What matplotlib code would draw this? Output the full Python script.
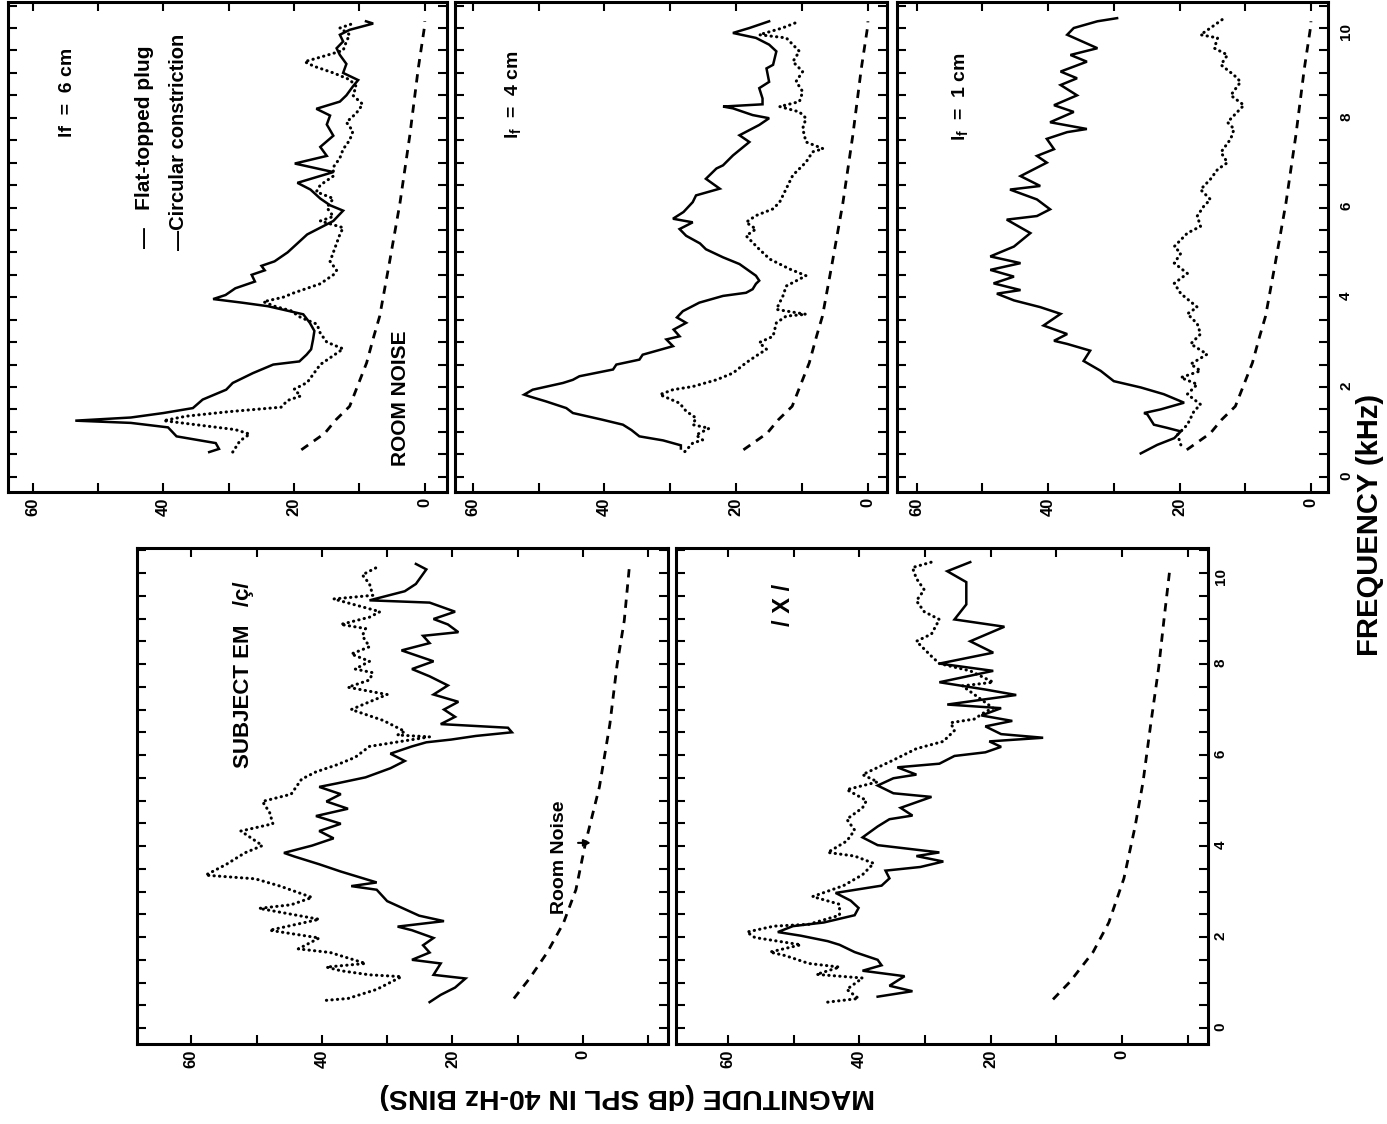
import matplotlib.pyplot as plt
from matplotlib import font_manager
from matplotlib.ticker import MultipleLocator, FuncFormatter

# ---------------- data: frequency (kHz) and magnitude (dB) ----------------
# right column, room noise (same in all three panels)
room_r_f = [0.6, 0.97, 1.27, 1.57, 2.54, 3.13, 3.58, 4.78, 6.1, 7.6, 9.1, 10.07, 10.15]
room_r_db = [18.9, 15.3, 13.6, 11.5, 8.9, 7.8, 6.9, 5.4, 3.8, 2.3, 1.0, 0.0, 0.0]

# lf = 6 cm
lf6_plug_f = [0.55, 0.62, 0.75, 0.9, 1.1, 1.2, 1.25, 1.32, 1.42, 1.53, 1.72, 1.94, 2.09, 2.31,
              2.5, 2.57, 2.72, 2.84, 3.06, 3.25, 3.43, 3.62, 3.69, 3.8, 3.88, 3.96, 4.05, 4.2,
              4.35, 4.5, 4.6, 4.7, 4.8, 5.0, 5.2, 5.4, 5.55, 5.7, 5.93, 6.05, 6.2, 6.4, 6.55,
              6.79, 6.98, 7.15, 7.35, 7.6, 7.85, 8.05, 8.2, 8.36, 8.5, 8.7, 8.84, 9.0, 9.2,
              9.4, 9.55, 9.7, 9.85, 9.96, 10.1, 10.15]
lf6_plug_db = [33, 31.5, 32, 38, 39.3, 45, 53.5, 45, 40, 35.5, 34, 30.4, 29.4, 26.3,
               23.2, 19.2, 18.1, 17.4, 17.1, 16.9, 17.6, 18.6, 20.7, 24, 28, 32.4, 30.5, 29,
               26, 26.5, 24.5, 25, 23, 21, 19.5, 18, 16, 14, 12.5, 14.5, 16, 17.5, 19.5,
               14, 19.9, 15, 16, 14, 15, 14.5, 16.6, 13, 12, 11, 10.2, 12.5, 12,
               13, 13.5, 12.5, 13, 11.5, 7.9, 9]
lf6_circ_f = [0.55, 0.8, 0.95, 1.05, 1.15, 1.25, 1.35, 1.45, 1.55, 1.7, 1.8, 1.95, 2.1, 2.3,
              2.5, 2.7, 2.85, 3.0, 3.2, 3.4, 3.55, 3.7, 3.8, 3.9, 4.0, 4.1, 4.3, 4.5, 4.6,
              4.8, 5.0, 5.2, 5.4, 5.55, 5.7, 5.8, 6.0, 6.2, 6.35, 6.5, 6.7, 6.9, 7.1, 7.3,
              7.5, 7.7, 7.9, 8.1, 8.3, 8.5, 8.7, 8.85, 9.0, 9.15, 9.25, 9.35, 9.5, 9.7,
              9.85, 10.0, 10.1]
lf6_circ_db = [29.4, 28.3, 26.8, 29, 34.5, 40, 36.5, 30, 22, 21, 19, 20, 18, 17,
               16, 14, 12.5, 15, 16, 16.5, 19, 20.5, 23, 24.7, 21.7, 20, 16, 14, 13.5,
               14.5, 14, 13.5, 13, 12.5, 16, 14, 15, 14, 16.6, 16, 14, 14, 13, 12.5,
               11.5, 11, 12, 10.5, 9.5, 11, 10.5, 11.5, 14, 17, 18.4, 16, 12.5, 12,
               11.5, 13, 11]

# lf = 4 cm
lf4_plug_f = [0.63, 0.7, 0.81, 0.9, 1.04, 1.16, 1.27, 1.42, 1.53, 1.68, 1.79, 1.83, 1.94, 2.09,
              2.16, 2.24, 2.39, 2.5, 2.61, 2.72, 2.91, 3.06, 3.13, 3.28, 3.43, 3.55, 3.69,
              3.88, 4.03, 4.1, 4.18, 4.3, 4.37, 4.48, 4.74, 4.89, 5.07, 5.2, 5.37, 5.52, 5.67,
              5.75, 5.9, 6.12, 6.27, 6.42, 6.64, 6.87, 6.94, 7.16, 7.46, 7.61, 7.84, 7.99,
              8.06, 8.21, 8.25, 8.3, 8.43, 8.66, 8.8, 9.1, 9.18, 9.48, 9.63, 9.78, 9.89,
              10.0, 10.15]
lf4_plug_db = [28.4, 28.4, 31.1, 34.7, 35.9, 37.2, 40.3, 44.8, 45.8, 48.9, 51.4, 52.2, 50.9, 46.3,
               44.8, 43.8, 38.7, 38.2, 34.7, 34.2, 29.6, 30.6, 28.6, 29.5, 27.6, 29, 28.1,
               25.6, 22, 18.5, 17.5, 17, 16.5, 17, 19.5, 22, 24.6, 25.5, 27.6, 28.6, 26.6,
               29.6, 28, 26.6, 26.1, 22.5, 24.6, 23, 22, 20.5, 18, 19.5, 16.5, 15,
               17.5, 20.5, 22, 16, 16, 16.5, 15, 15.4, 14.4, 13.9, 15, 17, 20.5,
               18, 15]
lf4_circ_f = [0.56, 0.75, 0.82, 0.93, 1.08, 1.16, 1.31, 1.46, 1.64, 1.83, 1.94, 2.01, 2.16, 2.31,
              2.54, 2.69, 2.84, 2.99, 3.13, 3.43, 3.58, 3.62, 3.73, 4.03, 4.25, 4.48, 4.63,
              4.85, 5.07, 5.37, 5.52, 5.67, 5.82, 5.97, 6.12, 6.42, 6.72, 7.01, 7.24, 7.31,
              7.46, 7.76, 7.99, 8.13, 8.25, 8.36, 8.58, 8.81, 9.03, 9.25, 9.48, 9.78, 9.85,
              10.0, 10.15]
lf4_circ_db = [27.8, 26.6, 25.1, 26.1, 24.1, 26.6, 26.1, 27.6, 28.6, 31.6, 29.6, 26.6, 23, 20.5,
               18.5, 17, 15.4, 16.5, 14.4, 13.9, 12.4, 9.4, 13.9, 12.9, 12.4, 9.4, 11.9,
               14.9, 16.5, 18.5, 17, 18.5, 17, 14.4, 13.4, 12.4, 11.4, 9.4, 8.4, 6.8,
               9.4, 9.9, 9.4, 10.4, 13.4, 10.4, 9.9, 10.9, 9.9, 11.4, 10.4, 12.4, 16.5,
               13, 10.4]

# lf = 1 cm
lf1_plug_f = [0.52, 0.71, 0.86, 1.01, 1.09, 1.16, 1.39, 1.42, 1.5, 1.65, 1.84, 1.99, 2.13, 2.36,
              2.58, 2.81, 2.96, 3.03, 3.18, 3.37, 3.63, 3.78, 3.93, 4.08, 4.16, 4.31, 4.46,
              4.61, 4.76, 4.91, 5.13, 5.43, 5.73, 5.81, 5.96, 6.18, 6.4, 6.48, 6.7, 7.0, 7.15,
              7.3, 7.53, 7.68, 7.75, 7.9, 8.13, 8.28, 8.5, 8.73, 8.88, 9.03, 9.25, 9.4, 9.55,
              9.85, 10.0, 10.15, 10.22]
lf1_plug_db = [25.9, 23.4, 20.8, 19.8, 21.9, 23.9, 24.9, 25.4, 22.9, 19.3, 22.4, 25.9, 30, 32,
               34.6, 33.6, 37.1, 39.1, 37.1, 40.7, 38.1, 41.2, 45.2, 47.8, 44.2, 48.3, 45.2,
               48.8, 44.2, 48.8, 45.2, 42.7, 46.3, 41.7, 39.7, 41.7, 45.8, 41.2, 44.2, 40.2, 41.7,
               39.1, 40.2, 37.1, 34.1, 39.7, 36.1, 39.1, 35.6, 38.1, 35.6, 38.1, 34.1, 36.6, 32.5,
               37.1, 36.1, 32.5, 29.5]
lf1_circ_f = [0.71, 0.94, 1.16, 1.46, 1.61, 1.84, 2.06, 2.21, 2.36, 2.51, 2.73, 2.96, 3.18, 3.41,
              3.63, 3.78, 4.08, 4.31, 4.53, 4.76, 4.98, 5.13, 5.43, 5.58, 5.81, 6.03, 6.18, 6.4,
              6.63, 6.85, 7.0, 7.23, 7.53, 7.75, 7.9, 8.13, 8.28, 8.5, 8.8, 8.95, 9.18, 9.4,
              9.55, 9.78, 9.85, 10.0, 10.22]
lf1_circ_db = [19.8, 20.3, 18.8, 17.8, 16.8, 18.8, 17.3, 19.8, 16.8, 18.3, 15.8, 18.3, 16.8, 17.3,
               18.8, 17.3, 19.8, 20.8, 18.8, 20.8, 19.8, 20.8, 18.8, 16.8, 17.3, 16.3, 15.3, 16.8,
               15.3, 14.2, 12.7, 13.7, 12.2, 11.7, 12.7, 11.2, 10.2, 12.2, 10.7, 11.7, 13.7, 12.7,
               14.7, 14.2, 16.8, 15.3, 13.2]

# subject EM, /ç/
ach_room_f = [0.65, 1.09, 1.66, 2.31, 3.04, 4.09, 5.3, 6.68, 7.98, 8.95, 10.16]
ach_room_db = [10.6, 8.2, 5.5, 3.0, 1.1, -0.4, -2.5, -4.1, -5.2, -6.3, -7.1]
ach_solid_f = [0.57, 0.73, 0.89, 1.09, 1.17, 1.42, 1.5, 1.66, 1.82, 1.98, 2.15, 2.23, 2.35, 2.47,
               2.79, 3.04, 3.12, 3.2, 3.44, 3.6, 3.77, 3.85, 4.01, 4.17, 4.33, 4.49, 4.66, 4.82,
               4.98, 5.14, 5.3, 5.38, 5.51, 5.71, 5.87, 6.03, 6.19, 6.28, 6.34, 6.42, 6.5, 6.6,
               6.68, 6.84, 7.0, 7.17, 7.33, 7.53, 7.73, 7.89, 8.06, 8.3, 8.46, 8.62, 8.7, 8.87,
               8.99, 9.15, 9.35, 9.4, 9.6, 9.76, 10.08, 10.2]
ach_solid_db = [23.5, 21.8, 19.6, 18, 22.9, 21.8, 26.2, 23.5, 24.5, 22.9, 26.2, 28.4, 21.3, 25.1,
                30, 31.6, 35.5, 31.6, 37.1, 40.4, 44.2, 45.8, 41.5, 38.2, 40.4, 37.1, 40.9, 36,
                39.3, 37.1, 40.4, 37.6, 33.3, 29.5, 27.3, 29.5, 26.2, 24, 20.2, 16.4, 10.9, 11.5,
                21.8, 19.6, 21.3, 19.1, 22.9, 20.7, 23.5, 26.2, 22.9, 27.8, 23.5, 24.5, 19.1, 20.7,
                22.9, 19.6, 23.5, 32.7, 27.3, 25.6, 24, 25.6]
ach_dot_f = [0.61, 0.65, 0.85, 1.13, 1.17, 1.26, 1.34, 1.42, 1.66, 1.74, 1.98, 2.15, 2.39, 2.63,
             2.71, 2.87, 3.12, 3.28, 3.36, 3.6, 3.85, 4.01, 4.33, 4.49, 4.74, 4.98, 5.14, 5.47,
             5.63, 5.79, 5.95, 6.19, 6.4, 6.44, 6.52, 6.76, 7.0, 7.17, 7.33, 7.49, 7.65, 7.81,
             7.89, 8.06, 8.22, 8.38, 8.62, 8.78, 8.87, 9.03, 9.15, 9.43, 9.51, 9.76, 9.96, 10.16]
ach_dot_db = [39.3, 36, 31.6, 27.8, 32.7, 37.1, 39.3, 33.3, 38.7, 43.6, 40.4, 48, 40.4, 49.6,
              44.7, 41.5, 46.4, 50.2, 57.8, 54.6, 51.8, 49.1, 52.4, 47.5, 48, 49.1, 44.7, 43.1,
              40.9, 37.6, 34.9, 32.7, 23.5, 28.4, 27.3, 30.6, 35.5, 32.7, 30, 36, 32.7, 32.2,
              34.9, 32.7, 35.5, 32.7, 33.8, 33.3, 37.1, 32.7, 31.1, 38.2, 32.2, 32.7, 33.8, 31.1]

# /X/
x_room_f = [0.63, 1.02, 1.67, 2.32, 3.29, 4.43, 5.4, 6.7, 7.93, 8.98, 10.1]
x_room_db = [10.5, 7.9, 4.4, 2.0, -0.3, -2.0, -3.2, -4.4, -5.6, -6.4, -7.3]
x_solid_f = [0.69, 0.81, 0.93, 1.14, 1.26, 1.38, 1.5, 1.67, 1.83, 1.91, 2.03, 2.11, 2.24, 2.32,
             2.48, 2.64, 2.8, 2.97, 3.05, 3.13, 3.29, 3.46, 3.54, 3.66, 3.78, 3.86, 4.02, 4.19,
             4.43, 4.59, 4.67, 4.84, 5.08, 5.16, 5.33, 5.49, 5.57, 5.73, 5.81, 5.98, 6.06, 6.18,
             6.3, 6.38, 6.46, 6.63, 6.75, 6.87, 7.03, 7.11, 7.32, 7.44, 7.6, 7.85, 8.01, 8.25,
             8.5, 8.82, 8.98, 9.31, 9.8, 10.04, 10.24]
x_solid_db = [37.2, 31.9, 35.4, 33.1, 39.5, 36.6, 37.2, 40.7, 43, 44.8, 48.9, 52.4, 50.1, 45.4,
              40.7, 40.1, 41.3, 43.6, 40.1, 36.6, 35.4, 36, 30.7, 27.2, 31.3, 27.8, 37.2, 39.5,
              37.2, 35.4, 31.9, 33.7, 29, 34.8, 37.2, 34.8, 31.3, 34.2, 27.8, 25.5, 20.8, 18.4,
              20.2, 12, 18.4, 20.8, 16.7, 21.4, 18.4, 26.6, 16.1, 20.8, 27.8, 19.6, 27.8, 19.6,
              23.1, 17.9, 25.5, 23.7, 23.7, 26.6, 23.1]
x_dot_f = [0.57, 0.65, 0.85, 1.1, 1.18, 1.34, 1.42, 1.59, 1.67, 1.83, 1.99, 2.11, 2.24, 2.28,
           2.48, 2.72, 2.89, 3.13, 3.37, 3.62, 3.78, 3.86, 4.11, 4.35, 4.59, 4.84, 5.0, 5.24,
           5.41, 5.57, 5.89, 6.14, 6.3, 6.54, 6.71, 6.79, 6.95, 7.03, 7.28, 7.52, 7.6, 7.85,
           8.01, 8.17, 8.5, 8.66, 8.98, 9.15, 9.39, 9.63, 9.88, 10.12, 10.24]
x_dot_db = [44.8, 40.1, 41.9, 39.5, 46.5, 43, 47.7, 51.2, 53.6, 48.9, 55.9, 57.1, 53, 47.7,
            43, 43, 47.1, 42.4, 39.5, 37.8, 40.7, 44.8, 41.9, 40.7, 41.9, 39.5, 38.9, 41.9,
            37.2, 39.5, 34.8, 31.3, 27.2, 25.5, 26.1, 22.5, 20.8, 19.6, 22, 24.3, 19.6, 23.1,
            27.8, 29, 31.3, 29, 27.8, 30.1, 31.3, 30.1, 31.3, 31.9, 29]

# ---------------- fonts ----------------
names = {f.name for f in font_manager.fontManager.ttflist}
NARROW = 'Liberation Sans Narrow' if 'Liberation Sans Narrow' in names else 'Liberation Sans'
plt.rcParams['font.family'] = ['Liberation Sans', 'DejaVu Sans']
plt.rcParams['font.weight'] = 'bold'
plt.rcParams['mathtext.fontset'] = 'custom'
plt.rcParams['mathtext.rm'] = 'Liberation Sans:bold'
plt.rcParams['mathtext.bf'] = 'Liberation Sans:bold'
plt.rcParams['mathtext.it'] = 'Liberation Sans:bold'

W, H = 1387, 1124
fig = plt.figure(figsize=(W / 100, H / 100), dpi=100)


def px_axes(x0, y0, x1, y1):
    return fig.add_axes([x0 / W, 1 - y1 / H, (x1 - x0) / W, (y1 - y0) / H])


def ftext(x, y, s, **kw):
    fig.text(x / W, 1 - y / H, s, **kw)


def mag_fmt(v, pos):
    v = round(v)
    return str(v) if v in (0, 20, 40, 60) else ''


def freq_fmt(v, pos):
    if abs(v - round(v)) < 1e-6 and round(v) % 2 == 0 and 0 <= v <= 10:
        return str(int(round(v)))
    return ''


def style_panel(ax, xlim, ylim, freq_labels=False, xpad=4, ypad=6):
    ax.set_xlim(*xlim)
    ax.set_ylim(*ylim)
    ax.xaxis.set_major_locator(MultipleLocator(10))
    ax.xaxis.set_major_formatter(FuncFormatter(mag_fmt))
    ax.yaxis.set_major_locator(MultipleLocator(0.5))
    ax.yaxis.set_major_formatter(FuncFormatter(freq_fmt))
    ax.tick_params(axis='both', direction='in', length=6.5, width=1.5,
                   top=True, right=True, left=True, bottom=True)
    ax.tick_params(axis='x', labelrotation=90, labelsize=12, pad=xpad)
    ax.tick_params(axis='y', labelrotation=90, labelsize=11, pad=ypad,
                   labelleft=False, labelright=freq_labels)
    for s in ax.spines.values():
        s.set_linewidth(2.2)


def draw(ax, sol_db, sol_f, dot_db, dot_f, room_db, room_f):
    ax.plot(sol_db, sol_f, color='black', lw=1.8, solid_joinstyle='miter')
    ax.plot(dot_db, dot_f, color='black', lw=2.2, linestyle=(0, (0.1, 1.7)),
            dash_capstyle='round')
    ax.plot(room_db, room_f, color='black', lw=2.0, linestyle=(0, (3, 2.5)))


# right column (rotated three-panel stack)
ax1 = px_axes(8, 2, 447, 492)
draw(ax1, lf6_plug_db, lf6_plug_f, lf6_circ_db, lf6_circ_f, room_r_db, room_r_f)
style_panel(ax1, (63.8, -3.4), (-0.34, 10.58))

ax2 = px_axes(455, 2, 887, 492)
draw(ax2, lf4_plug_db, lf4_plug_f, lf4_circ_db, lf4_circ_f, room_r_db, room_r_f)
style_panel(ax2, (62.7, -2.9), (-0.34, 10.58))

ax3 = px_axes(897, 2, 1328, 492)
draw(ax3, lf1_plug_db, lf1_plug_f, lf1_circ_db, lf1_circ_f, room_r_db, room_r_f)
style_panel(ax3, (63.0, -2.6), (-0.34, 10.58), freq_labels=True, ypad=8)

# left column
axa = px_axes(137, 548, 668, 1044)
draw(axa, ach_solid_db, ach_solid_f, ach_dot_db, ach_dot_f, ach_room_db, ach_room_f)
style_panel(axa, (68.3, -13.0), (-0.35, 10.55))
axa.annotate('', xy=(-1.6, 4.07), xytext=(1.2, 4.07),
             arrowprops=dict(arrowstyle='-|>', color='black', lw=1.5, mutation_scale=10))

axb = px_axes(676, 548, 1208, 1044)
draw(axb, x_solid_db, x_solid_f, x_dot_db, x_dot_f, x_room_db, x_room_f)
style_panel(axb, (67.9, -13.1), (-0.35, 10.55), freq_labels=True, ypad=4)

# panel texts
ftext(68, 92, 'lf  =  6 cm', rotation=90, ha='center', va='center', fontsize=14)
ftext(145, 248, '\u2014   Flat-topped plug', rotation=90, ha='center', va='bottom',
      fontsize=15, family=NARROW)
ftext(178, 250, '\u2014Circular constriction', rotation=90, ha='center', va='bottom',
      fontsize=14.5, family=NARROW)
ftext(400, 398, 'ROOM NOISE', rotation=90, ha='center', va='center', fontsize=15)
ftext(513, 95, r'l$_\mathbf{f}$  =  4 cm', rotation=90, ha='center', va='center', fontsize=14)
ftext(960, 97, r'l$_\mathbf{f}$  =  1 cm', rotation=90, ha='center', va='center', fontsize=14)
ftext(243, 675, 'SUBJECT EM   /\u00e7/', rotation=90, ha='center', va='center', fontsize=16)
ftext(560, 857, 'Room Noise', rotation=90, ha='center', va='center', fontsize=14)
ftext(784, 605, '/ X /', rotation=90, ha='center', va='center', fontsize=17)

ftext(1370, 525, 'FREQUENCY (kHz)', rotation=90, ha='center', va='center', fontsize=21)
ftext(627, 1096, 'MAGNITUDE (dB SPL IN 40-Hz BINS)', rotation=180, ha='center',
      va='center', fontsize=20.5)

fig.savefig('out.png', dpi=100)
